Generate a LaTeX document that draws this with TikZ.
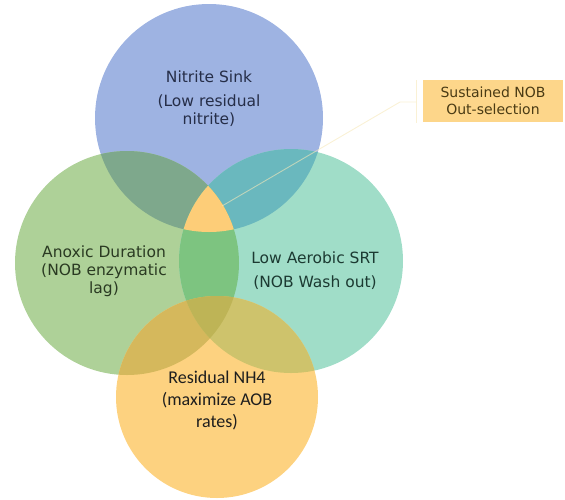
\documentclass[tikz,border=0pt]{standalone}
\usepackage{fontspec}
\setmainfont{DejaVu Sans}
\newfontfamily\calibfont{Carlito}
\definecolor{cBlue}{RGB}{158,179,226}
\definecolor{cGreen}{RGB}{174,209,152}
\definecolor{cMint}{RGB}{160,221,200}
\definecolor{cOrange}{RGB}{253,210,128}
\definecolor{cTL}{RGB}{126,168,140}
\definecolor{cTR}{RGB}{106,184,190}
\definecolor{cLR}{RGB}{125,196,128}
\definecolor{cTLR}{RGB}{253,205,120}
\definecolor{cLB}{RGB}{213,184,92}
\definecolor{cRB}{RGB}{206,195,108}
\definecolor{cLRB}{RGB}{190,180,86}
\definecolor{cBox}{RGB}{253,214,138}
\definecolor{cLead}{RGB}{246,232,185}
\definecolor{tBlue}{RGB}{38,46,72}
\definecolor{tGreen}{RGB}{42,58,34}
\definecolor{tMint}{RGB}{28,58,50}
\definecolor{tDark}{RGB}{30,30,30}
\definecolor{tBox}{RGB}{74,59,20}
\newcommand\cTop{(209,118) circle (114pt)}
\newcommand\cLft{(127,263) circle (112pt)}
\newcommand\cRgt{(291,261) circle (112pt)}
\newcommand\cBot{(217,397) circle (101pt)}
\tikzset{
  lbl/.style={align=center, inner sep=0pt, font=\fontsize{15.5}{18}\selectfont},
  lblb/.style={align=center, inner sep=0pt, font=\calibfont\fontsize{18}{22}\selectfont},
  callout/.style={fill=cBox, text=tBox, align=center, inner sep=0pt,
    minimum width=140pt, minimum height=42pt, font=\fontsize{14}{17}\selectfont},
  lead/.style={draw=cLead, line width=0.9pt, draw opacity=0.6}
}
\begin{document}
\begin{tikzpicture}[x=1pt,y=-1pt]
\useasboundingbox (0,0) rectangle (565,499);
% base circles
\fill[cBlue] \cTop;
\fill[cGreen] \cLft;
\fill[cMint] \cRgt;
\fill[cOrange] \cBot;
% pairwise overlaps
\begin{scope}\clip \cTop; \fill[cTL] \cLft; \end{scope}
\begin{scope}\clip \cTop; \fill[cTR] \cRgt; \end{scope}
\begin{scope}\clip \cLft; \fill[cLR] \cRgt; \end{scope}
\begin{scope}\clip \cLft; \fill[cLB] \cBot; \end{scope}
\begin{scope}\clip \cRgt; \fill[cRB] \cBot; \end{scope}
% triple overlaps
\begin{scope}\clip \cLft; \clip \cRgt; \fill[cLRB] \cBot; \end{scope}
\begin{scope}\clip \cLft; \clip \cRgt; \fill[cTLR] \cTop; \end{scope}
% callout
\node[callout] (sust) at (493,101) {Sustained NOB\\Out-selection};
\coordinate (brT) at (416,80);
\coordinate (brB) at (416,123);
\coordinate (brM) at (416,102);
\coordinate (knee) at (400,102);
\coordinate (tri) at (222,206);
\draw[lead] (brT) -- (brB);
\draw[lead] (brM) -- (knee) -- (tri);
% labels
\node[lbl, text=tBlue] (nitrite) at (209,99) {Nitrite Sink\\[6pt](Low residual\\nitrite)};
\node[lbl, text=tGreen] (anoxic) at (104,271) {Anoxic Duration\\(NOB enzymatic\\lag)};
\node[lbl, text=tMint] (srt) at (315,271) {Low Aerobic SRT\\[6pt](NOB Wash out)};
\node[lblb, text=tDark] (nh4) at (217,400) {Residual NH4\\(maximize AOB\\rates)};
\end{tikzpicture}
\end{document}
